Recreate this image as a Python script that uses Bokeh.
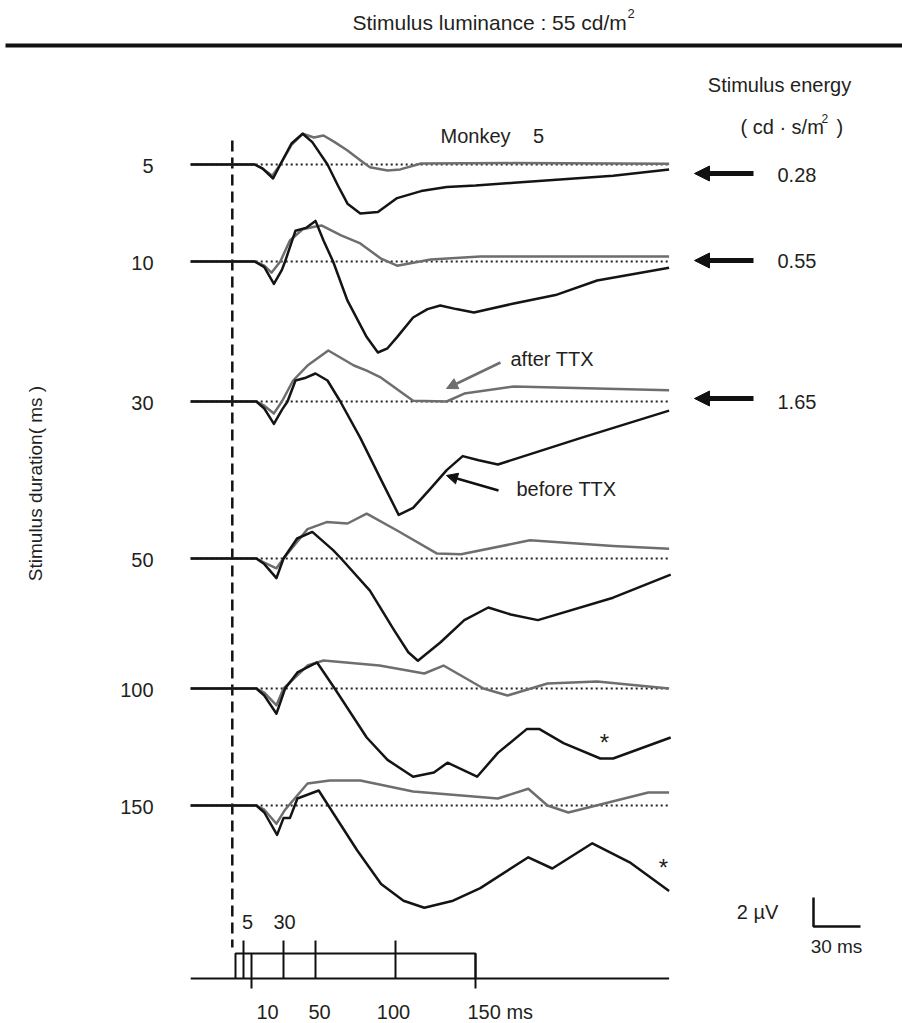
import math
from bokeh.plotting import figure
from bokeh.models import Range1d, Arrow, NormalHead
from bokeh.core.properties import value
from bokeh.embed import file_html
from bokeh.resources import INLINE

# ---------------- data (ms, microvolt relative to each trace baseline) ----------------
durations = [5, 10, 30, 50, 100, 150]
energy_labels = ["0.28", "0.55", "1.65"]

t_b5 = [-28, 12, 17, 23.5, 28, 35, 42, 48, 57.5, 64, 70, 78, 89, 101, 116, 132, 150, 174, 205, 236, 271]
v_b5 = [0, 0, -0.3, -1.0, 0, 1.5, 2.2, 1.6, 0, -1.5, -2.8, -3.5, -3.4, -2.4, -1.9, -1.6, -1.5, -1.3, -1.05, -0.8, -0.35]
t_g5 = [-28, 12, 17, 23, 28, 35, 42, 49, 55, 62, 70, 78, 84, 95, 103, 116, 174, 271]
v_g5 = [0, 0, -0.3, -0.8, 0, 1.4, 2.2, 1.93, 2.07, 1.6, 1.0, 0.3, -0.2, -0.43, -0.35, 0.07, 0.1, 0.05]

t_b10 = [-28, 12, 18, 24, 29, 31, 37.5, 44, 50, 55, 61, 70, 82, 89, 95, 101, 111, 120, 128, 138, 149, 174, 200, 226, 271]
v_b10 = [0, 0, -0.4, -1.6, -0.6, 0, 2.2, 2.4, 2.9, 1.5, 0, -2.8, -5.4, -6.5, -6.2, -5.4, -4.0, -3.4, -3.14, -3.4, -3.64, -3.0, -2.4, -1.36, -0.45]
t_g10 = [-28, 12, 18, 22.5, 28, 34, 42, 50, 54, 66, 78, 91, 101, 122, 153, 271]
v_g10 = [0, 0, -0.3, -0.8, 0, 1.5, 2.3, 2.5, 2.57, 1.86, 1.29, 0.2, -0.3, 0.15, 0.35, 0.35]

t_b30 = [-28, 13, 18, 24, 29, 32.5, 37.5, 44, 50, 57.5, 65.5, 78, 91, 102, 111, 122, 132, 142, 152, 164, 216, 271]
v_b30 = [0, 0, -0.5, -1.6, -0.6, 0, 1.5, 1.7, 2.0, 1.5, 0, -2.6, -5.6, -8.1, -7.6, -6.2, -4.9, -3.9, -4.2, -4.5, -2.6, -0.65]
t_g30 = [-28, 13, 18, 24, 29, 36, 45, 58, 74, 82, 91, 111, 132, 143, 174, 271]
v_g30 = [0, 0, -0.3, -0.85, 0, 1.5, 2.57, 3.64, 2.57, 2.2, 1.7, 0.05, 0, 0.57, 1.07, 0.8]

t_b50 = [-28, 13, 18, 25.6, 30, 38.5, 48, 61, 66, 84, 99, 108, 114, 128, 143, 158, 172, 189, 236, 272]
v_b50 = [0, 0, -0.4, -1.4, 0, 1.43, 1.9, 0.6, 0, -2.3, -5.1, -6.7, -7.3, -6.0, -4.4, -3.5, -4.0, -4.4, -2.8, -1.15]
t_g50 = [-28, 13, 18, 25.6, 30, 45, 57, 70, 82, 101, 126, 141, 184, 236, 271]
v_g50 = [0, 0, -0.3, -0.7, 0, 2.1, 2.6, 2.5, 3.2, 2.0, 0.35, 0.3, 1.3, 0.9, 0.7]

t_b100 = [-28, 13, 18, 25.6, 31, 38.7, 51, 62, 82, 95, 111, 124, 132.5, 151, 164, 182, 190, 205, 228, 236, 272]
v_b100 = [0, 0, -0.5, -1.8, 0, 1.15, 1.86, 0, -3.5, -5.1, -6.3, -6.0, -5.3, -6.3, -4.6, -2.9, -2.9, -3.9, -5.0, -5.0, -3.5]
t_g100 = [-28, 13, 18, 25.6, 30, 45, 55, 90, 118, 130, 155, 170, 195, 226, 271]
v_g100 = [0, 0, -0.3, -1.2, 0, 1.64, 2.0, 1.65, 1.07, 1.64, 0, -0.5, 0.36, 0.5, 0]

t_b150 = [-28, 13, 18, 26, 30, 34, 38.7, 52, 58, 76, 91, 105, 118, 136, 153, 183, 198, 223, 247, 271]
v_b150 = [0, 0, -0.5, -2.1, -0.9, -0.9, 0.5, 1.07, 0, -3.2, -5.6, -6.8, -7.3, -6.8, -5.9, -3.7, -4.5, -2.7, -4.1, -6.1]
t_g150 = [-28, 13, 18, 25.6, 31, 45, 59, 78, 111, 164, 183, 195, 208, 258, 271]
v_g150 = [0, 0, -0.3, -1.3, -0.3, 1.57, 1.79, 1.79, 1.0, 0.5, 1.2, 0, -0.5, 0.93, 0.93]

before = [(t_b5, v_b5), (t_b10, v_b10), (t_b30, v_b30), (t_b50, v_b50), (t_b100, v_b100), (t_b150, v_b150)]
after = [(t_g5, v_g5), (t_g10, v_g10), (t_g30, v_g30), (t_g50, v_g50), (t_g100, v_g100), (t_g150, v_g150)]

# ---------------- layout (pixel helpers) ----------------
W, H = 902, 1023
X0, PXMS, PXUV = 235.0, 1.6, 14.0
def X(px): return (px - X0) / PXMS
def Y(py): return (H - py) / PXUV

baseline_px = [164, 261, 401, 558, 688, 805]
offsets = [Y(b) for b in baseline_px]

BLACK = "#141414"
GRAY = "#6e6e6e"
FONT = value("Liberation Sans")

p = figure(width=W, height=H, x_range=Range1d(X(0), X(W)), y_range=Range1d(Y(H), Y(0)),
           output_backend="svg", toolbar_location=None, min_border=0)
p.axis.visible = False
p.grid.visible = False
p.outline_line_color = None
p.background_fill_color = "white"
p.border_fill_color = "white"

def txt(px, py, s, size="20px", align="center", color="#231f20", angle=0.0, baseline="middle"):
    p.text(x=[X(px)], y=[Y(py)], text=[s], text_font=FONT, text_font_size=size,
           text_align=align, text_baseline=baseline, text_color=color, angle=angle)

# header
txt(352, 22, "Stimulus luminance : 55 cd/m", size="21px", align="left")
txt(627, 13, "2", size="13px", align="left")
p.line([X(5), X(W)], [Y(45), Y(45)], line_color="#111111", line_width=4)

# dotted baselines
for off in offsets:
    p.line([-28, 271], [off, off], line_color="#222222", line_width=2, line_dash="2 3")

# stimulus onset dashed line
p.line([-2, -2], [Y(140), Y(947)], line_color="#111111", line_width=2.5, line_dash="11 6")

# traces
for (t, v), off in zip(after, offsets):
    p.line(t, [off + a for a in v], line_color=GRAY, line_width=2.5, line_join="round")
for (t, v), off in zip(before, offsets):
    p.line(t, [off + a for a in v], line_color=BLACK, line_width=2.5, line_join="round")

# left duration labels
for d, b in zip(durations, baseline_px):
    txt(153, b + 1, str(d), align="right")
txt(35, 483, "Stimulus duration( ms )", size="19px", angle=math.pi / 2)

# right side: stimulus energy
txt(779, 84, "Stimulus energy")
txt(740, 126, "( cd · s/m", align="left")
txt(821, 118, "2", size="12px", align="left")
txt(836, 126, ")", align="left")
for lab, b in zip(energy_labels, [174, 260, 401]):
    txt(777, b, lab, align="left")
for b in [173, 260, 398]:
    p.add_layout(Arrow(end=NormalHead(size=15, fill_color="#111111", line_color="#111111"),
                       x_start=X(753), y_start=Y(b), x_end=X(694), y_end=Y(b),
                       line_width=5, line_color="#111111"))

txt(440, 135, "Monkey", align="left")
txt(538, 135, "5")

# TTX annotations
txt(510, 358, "after TTX", align="left")
p.add_layout(Arrow(end=NormalHead(size=11, fill_color=GRAY, line_color=GRAY),
                   x_start=X(500), y_start=Y(362), x_end=X(446), y_end=Y(388),
                   line_width=2.5, line_color=GRAY))
txt(516, 488, "before TTX", align="left")
p.add_layout(Arrow(end=NormalHead(size=11, fill_color="#111111", line_color="#111111"),
                   x_start=X(498), y_start=Y(490), x_end=X(446), y_end=Y(475),
                   line_width=2.5, line_color="#111111"))

txt(604, 742, "*", size="24px")
txt(663, 867, "*", size="24px")

# scale bar
p.line([X(813), X(813), X(860)], [Y(897), Y(926), Y(926)], line_color="#111111", line_width=2.5)
txt(757, 911, "2 µV")
txt(836, 946, "30 ms", size="19px")

# stimulus timeline
base_y, top_y, up_y, down_y = Y(978), Y(953), Y(940), Y(988)
p.line([-28, 271], [base_y, base_y], line_color="#111111", line_width=2)
p.line([0, 0, durations[-1], durations[-1]], [base_y, top_y, top_y, base_y], line_color="#111111", line_width=2)
for d in durations:
    if d in (10, 150):
        p.line([d, d], [top_y, down_y], line_color="#111111", line_width=2)
    else:
        p.line([d, d], [base_y, up_y], line_color="#111111", line_width=2)
txt(247, 921, "5")
txt(284, 921, "30")
txt(267, 1011, "10")
txt(319, 1011, "50")
txt(393, 1011, "100")
txt(467, 1011, "150 ms", align="left")

open("out.html", "w").write(file_html(p, INLINE))
